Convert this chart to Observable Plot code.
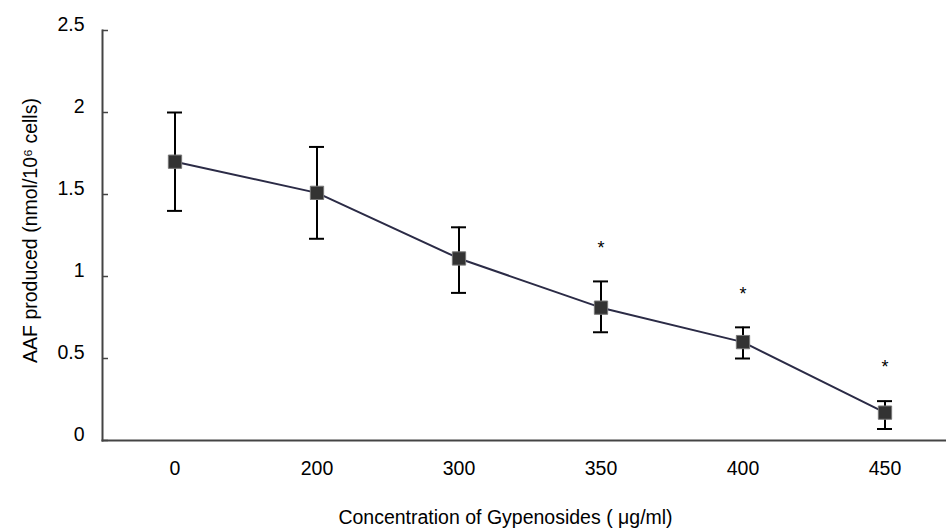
<!DOCTYPE html>
<html>
<head>
<meta charset="utf-8">
<script src="https://cdn.jsdelivr.net/npm/d3@7"></script>
<script src="https://cdn.jsdelivr.net/npm/@observablehq/plot@0.6"></script>
<style>
  html, body { margin: 0; padding: 0; background: #fff; }
</style>
</head>
<body>
<div id="chart"></div>
<script>
// Data
const concentrations = ["0", "200", "300", "350", "400", "450"];
const means = [1.70, 1.51, 1.11, 0.81, 0.60, 0.17];
const lower = [1.40, 1.23, 0.90, 0.66, 0.50, 0.07];
const upper = [2.00, 1.79, 1.30, 0.97, 0.69, 0.24];
const asteriskValues = [null, null, null, 1.20, 0.92, 0.48];
const yTicks = [0, 0.5, 1, 1.5, 2, 2.5];
const xLabel = "Concentration of Gypenosides ( μg/ml)";
const yLabel = "AAF produced (nmol/10⁶ cells)";

const rows = concentrations.map((c, i) => ({
  c, mean: means[i], lo: lower[i], hi: upper[i], star: asteriskValues[i]
}));
const stars = rows.filter(d => d.star != null);

const chart = Plot.plot({
  width: 946,
  height: 530,
  marginLeft: 102,
  marginRight: 0,
  marginTop: 30,
  marginBottom: 90,
  style: {fontFamily: "'Liberation Sans', Arial, sans-serif", background: "#fff", color: "#000"},
  x: {type: "band", domain: concentrations, range: [102, 956], paddingInner: 0.895, paddingOuter: 0.4475, align: 0.5},
  y: {domain: [0, 2.5]},
  marks: [
    Plot.frame({anchor: "left", stroke: "#444", strokeWidth: 2}),
    Plot.frame({anchor: "bottom", stroke: "#444", strokeWidth: 2}),
    // inward ticks on y axis
    Plot.axisY({ticks: yTicks, tickSize: 6, dx: 6, tickFormat: () => "", stroke: "#444", strokeWidth: 1.5, label: null}),
    // y tick labels
    Plot.axisY({ticks: yTicks, tickSize: 0, tickPadding: 18, dy: -6, fontSize: 19.5, label: null, tickFormat: d3.format("")}),
    // x tick labels
    Plot.axisX({tickSize: 0, tickPadding: 21, fontSize: 19.5, label: null}),
    // error bars
    Plot.ruleX(rows, {x: "c", y1: "lo", y2: "hi", stroke: "#000", strokeWidth: 2}),
    Plot.tickY(rows, {x: "c", y: "lo", stroke: "#000", strokeWidth: 2}),
    Plot.tickY(rows, {x: "c", y: "hi", stroke: "#000", strokeWidth: 2}),
    // line and markers
    Plot.line(rows, {x: "c", y: "mean", stroke: "#2b2b46", strokeWidth: 2}),
    Plot.dot(rows, {x: "c", y: "mean", symbol: "square", r: 7.5, fill: "#333", stroke: "#777", strokeWidth: 1}),
    // significance asterisks
    Plot.text(stars, {x: "c", y: "star", text: () => "*", fontSize: 18, dy: 5, lineAnchor: "middle"}),
    // axis titles
    Plot.text([xLabel], {frameAnchor: "bottom", textAnchor: "middle", dx: -19, dy: 77, fontSize: 19.5, lineAnchor: "middle"}),
    Plot.text([yLabel], {frameAnchor: "left", textAnchor: "middle", rotate: -90, dx: -72, dy: -5, fontSize: 19.5, lineAnchor: "middle"})
  ]
});

document.getElementById("chart").appendChild(chart);
</script>
</body>
</html>
